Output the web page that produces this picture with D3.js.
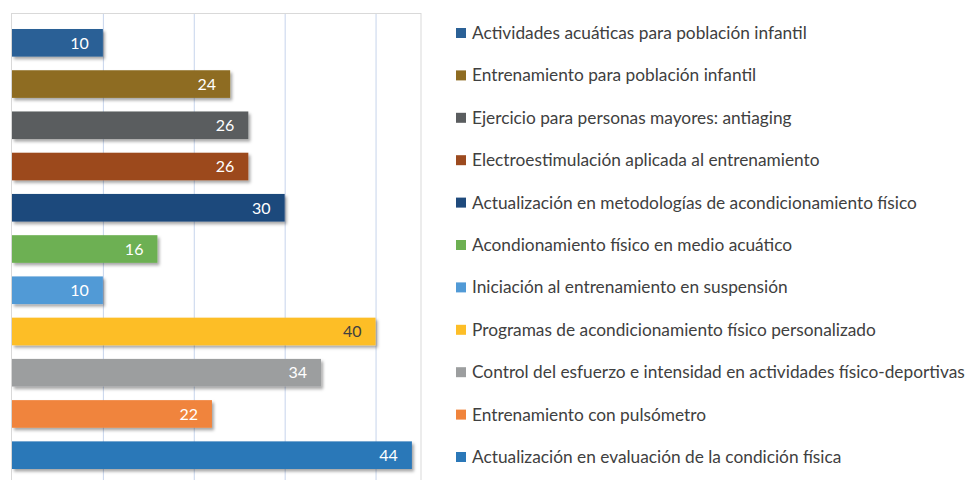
<!DOCTYPE html>
<html lang="es">
<head>
<meta charset="utf-8">
<title>Cursos</title>
<style>
  body { margin: 0; background: #fff; }
  svg { display: block; font-family: Lato, "Open Sans", sans-serif; }
  .grid line { stroke: #c6d4ec; stroke-width: 1; }
  .grid path { display: none; }
  .legend text { fill: #404040; font-size: 17.3px; }
  .val { font-size: 16px; }
</style>
<script src="https://d3js.org/d3.v7.min.js"></script>
</head>
<body>
<svg width="980" height="480"></svg>
<script>

// data, top to bottom as shown
var cursos = [
  "Actividades acuáticas para población infantil",
  "Entrenamiento para población infantil",
  "Ejercicio para personas mayores: antiaging",
  "Electroestimulación aplicada al entrenamiento",
  "Actualización en metodologías de acondicionamiento físico",
  "Acondionamiento físico en medio acuático",
  "Iniciación al entrenamiento en suspensión",
  "Programas de acondicionamiento físico personalizado",
  "Control del esfuerzo e intensidad en actividades físico-deportivas",
  "Entrenamiento con pulsómetro",
  "Actualización en evaluación de la condición física"
];
var valores = [10, 24, 26, 26, 30, 16, 10, 40, 34, 22, 44];
var colores = ["#2b6196", "#8e6c22", "#5a5d5f", "#9c4a1f", "#1f4a7c", "#6db052",
               "#519ad6", "#fdbe27", "#9c9e9f", "#f0843c", "#2b78b8"];
var gridTicks = [10, 20, 30, 40];

var svg = d3.select("svg");

var x = d3.scaleLinear().domain([0, 45]).range([12, 421]);
var y = d3.scaleBand().domain(cursos).range([29, 469]).paddingInner(0.33).paddingOuter(0);
var ly = d3.scalePoint().domain(cursos).range([33, 457]);

var defs = svg.append("defs");
defs.append("filter").attr("id", "sombra")
    .attr("x", "-5%").attr("y", "-30%").attr("width", "115%").attr("height", "180%")
  .append("feDropShadow")
    .attr("dx", 2).attr("dy", 2.5).attr("stdDeviation", 1.8)
    .attr("flood-color", "#000").attr("flood-opacity", 0.35);

// plot area frame
svg.append("rect")
    .attr("x", 11.5).attr("y", 13.5)
    .attr("width", 421 - 11.5).attr("height", 500)
    .attr("fill", "none").attr("stroke", "#d9d9d9");

// vertical gridlines
svg.append("g")
    .attr("class", "grid")
    .attr("transform", "translate(0,14)")
    .call(d3.axisBottom(x).tickValues(gridTicks).tickSize(480).tickFormat(""));

svg.selectAll(".bar")
  .data(cursos)
  .enter().append("rect")
    .attr("class", "bar")
    .attr("x", x(0))
    .attr("y", function(d) { return y(d); })
    .attr("width", function(d, i) { return x(valores[i]) - x(0); })
    .attr("height", y.bandwidth())
    .attr("fill", function(d, i) { return colores[i]; })
    .attr("filter", "url(#sombra)");

svg.selectAll(".val")
  .data(cursos)
  .enter().append("text")
    .attr("class", "val")
    .attr("x", function(d, i) { return x(valores[i]) - 14; })
    .attr("y", function(d) { return y(d) + y.bandwidth() / 2; })
    .attr("dy", "0.36em")
    .attr("text-anchor", "end")
    .attr("fill", function(d, i) { return valores[i] == 40 ? "#404040" : "#fff"; })
    .text(function(d, i) { return valores[i]; });

// legend
var leg = svg.append("g").attr("class", "legend")
  .selectAll("g")
  .data(cursos)
  .enter().append("g")
    .attr("transform", function(d) { return "translate(456," + ly(d) + ")"; });

leg.append("rect")
    .attr("x", 0).attr("y", -5)
    .attr("width", 10).attr("height", 10)
    .attr("fill", function(d, i) { return colores[i]; });

leg.append("text")
    .attr("x", 16)
    .attr("dy", "0.35em")
    .text(function(d) { return d; });

</script>
</body>
</html>
